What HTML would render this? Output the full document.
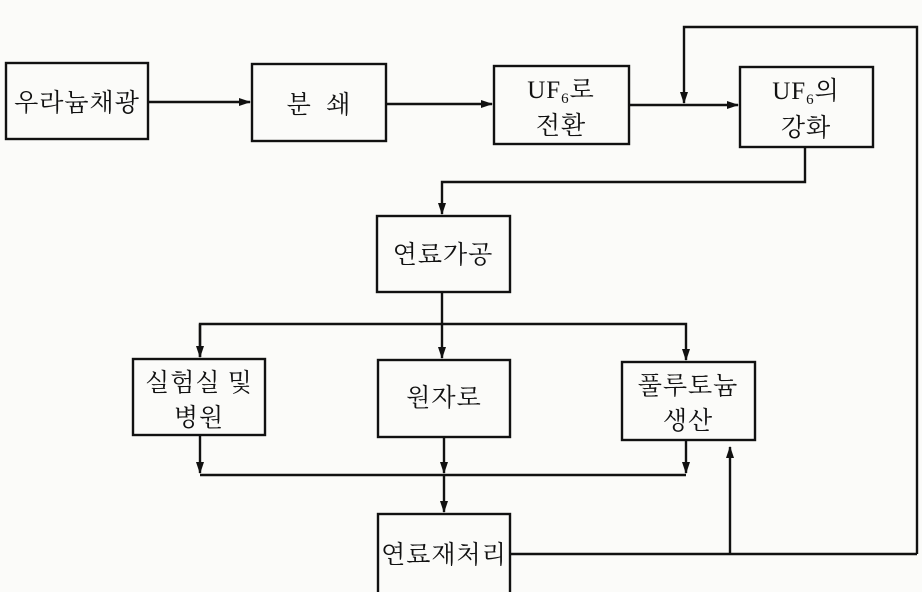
<!DOCTYPE html>
<html><head><meta charset="utf-8"><style>
html,body{margin:0;padding:0;background:#fbfbf9;}
svg{display:block}
text{font-family:"Liberation Serif","Noto Serif CJK SC","Noto Sans CJK KR",serif;font-size:25px;fill:#111;text-anchor:middle;letter-spacing:1px}
</style></head><body>
<svg width="922" height="592" viewBox="0 0 922 592" xmlns="http://www.w3.org/2000/svg">
<defs><marker id="a" markerWidth="12" markerHeight="10" refX="11" refY="5" orient="auto" markerUnits="userSpaceOnUse"><path d="M0,1 L12,5 L0,9 Z" fill="#111"/></marker></defs>
<g fill="none" stroke="#111" stroke-width="2.4">
<rect x="6" y="63" width="142" height="76"/>
<rect x="252" y="64" width="134" height="77"/>
<rect x="494" y="66" width="135" height="78"/>
<rect x="740" y="67" width="133" height="80"/>
<rect x="377" y="216" width="133" height="76"/>
<rect x="133" y="359" width="132" height="76"/>
<rect x="378" y="360" width="132" height="77"/>
<rect x="622" y="362" width="133" height="78"/>
<rect x="378" y="514" width="132" height="80"/>
<line x1="148" y1="102" x2="250" y2="102" marker-end="url(#a)"/>
<line x1="386" y1="104" x2="492" y2="104" marker-end="url(#a)"/>
<line x1="629" y1="105" x2="738" y2="105" marker-end="url(#a)"/>
<polyline points="917,554 917,27 684,27 684,103" marker-end="url(#a)"/>
<polyline points="805,147 805,182 442,182 442,214" marker-end="url(#a)"/>
<line x1="442" y1="292" x2="442" y2="358" marker-end="url(#a)"/>
<polyline points="200,357 200,324 686,324 686,360" marker-end="url(#a)"/>
<line x1="200" y1="324" x2="200" y2="357" marker-end="url(#a)"/>
<line x1="200" y1="435" x2="200" y2="473" marker-end="url(#a)"/>
<line x1="444" y1="437" x2="444" y2="473" marker-end="url(#a)"/>
<line x1="686" y1="440" x2="686" y2="473" marker-end="url(#a)"/>
<line x1="200" y1="475" x2="686" y2="475"/>
<line x1="444" y1="475" x2="444" y2="512" marker-end="url(#a)"/>
<line x1="510" y1="554" x2="917" y2="554"/>
<line x1="730" y1="554" x2="730" y2="447" marker-end="url(#a)"/>
</g>
<text x="77" y="111">우라늄채광</text>
<text x="319" y="113">분 &#160;쇄</text>
<text x="561" y="98">UF<tspan font-size="15" dy="5">6</tspan><tspan dy="-5">로</tspan></text>
<text x="561" y="134">전환</text>
<text x="806" y="99">UF<tspan font-size="15" dy="5">6</tspan><tspan dy="-5">의</tspan></text>
<text x="806" y="136">강화</text>
<text x="443" y="263">연료가공</text>
<text x="199" y="391">실험실 및</text>
<text x="199" y="426">병원</text>
<text x="444" y="406">원자로</text>
<text x="688" y="394">풀루토늄</text>
<text x="688" y="429">생산</text>
<text x="444" y="563">연료재처리</text>
</svg>
</body></html>
